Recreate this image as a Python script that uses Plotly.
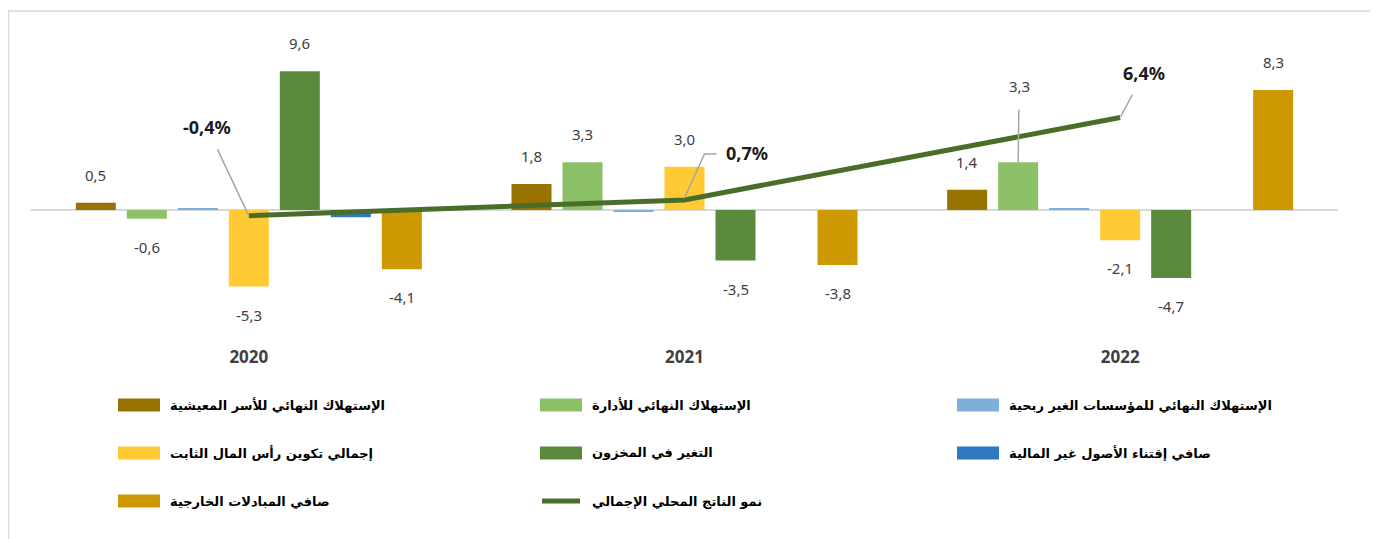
import plotly.graph_objects as go

# ---------------- data ----------------
years = ["2020", "2021", "2022"]
households = [0.5, 1.8, 1.4]
administration = [-0.6, 3.3, 3.3]
npish = [0.1, -0.1, 0.1]
gfcf = [-5.3, 3.0, -2.1]
inventories = [9.6, -3.5, -4.7]
nonfinancial = [-0.5, 0.0, 0.0]
net_exports = [-4.1, -3.8, 8.3]
gdp_growth = [-0.4, 0.7, 6.4]

name_households = "الإستهلاك النهائي للأسر المعيشية"
name_administration = "الإستهلاك النهائي للأدارة"
name_npish = "الإستهلاك النهائي للمؤسسات الغير ربحية"
name_gfcf = "إجمالي تكوين رأس المال الثابت"
name_inventories = "التغير في المخزون"
name_nonfinancial = "صافي إقتناء الأصول غير المالية"
name_net_exports = "صافي المبادلات الخارجية"
name_gdp = "نمو الناتج المحلي الإجمالي"

# ---------------- styling ----------------
OFF = 8  # page body margin offset
W, H = 1378 - OFF, 539 - OFF
PLOT_L, PLOT_R, PLOT_T, PLOT_B = 31, 1338, 20, 345  # in screenshot pixels
ML = PLOT_L - OFF
MT = PLOT_T - OFF
MR = W - (PLOT_R - OFF)
MB = H - (PLOT_B - OFF)
PW, PH = W - ML - MR, H - MT - MB
PX_PER_UNIT = 14.45
ZERO_Y = 210  # screenshot pixels
y_top = (ZERO_Y - PLOT_T) / PX_PER_UNIT
y_bot = -(PLOT_B - ZERO_Y) / PX_PER_UNIT

slot = 51 / (PW / 3)
bar_w = 40 / (PW / 3)

bar_series = [
    (name_households, households, "#997300", True),
    (name_administration, administration, "#8cc168", True),
    (name_npish, npish, "#7eaedc", False),
    (name_gfcf, gfcf, "#ffca33", True),
    (name_inventories, inventories, "#5b8a3c", True),
    (name_nonfinancial, nonfinancial, "#2f78c2", False),
    (name_net_exports, net_exports, "#cc9900", True),
]
line_color = "#4a6e2a"
leader_color = "#a6a6a6"
xpos = list(range(len(years)))

def fmt(v):
    return f"{v:.1f}".replace(".", ",")

def px2paper_x(px):
    return (px - PLOT_L) / PW

def px2paper_y(py):
    return (PLOT_B - py) / PH

fig = go.Figure()
annotations = []
shapes = []

for k, (name, vals, color, labeled) in enumerate(bar_series):
    off = (k - 3) * slot
    fig.add_trace(go.Bar(
        x=xpos, y=vals, name=name, width=bar_w, offset=off - bar_w / 2,
        marker=dict(color=color, line=dict(width=0)),
        showlegend=False,
    ))
    if labeled:
        for i, v in enumerate(vals):
            xa = xpos[i] + off
            if k == 1 and i == 2:
                annotations.append(dict(
                    x=xa, y=v, xref="x", yref="y", text=fmt(v),
                    showarrow=True, arrowhead=0, arrowwidth=1.5, arrowcolor=leader_color,
                    ax=1, ay=-76, startstandoff=12,
                    font=dict(family="Noto Sans", size=15, color="#404040"),
                ))
            else:
                annotations.append(dict(
                    x=xa, y=v, xref="x", yref="y", text=fmt(v), showarrow=False,
                    yshift=28 if v >= 0 else -28, yanchor="middle",
                    font=dict(family="Noto Sans", size=15, color="#404040"),
                ))

fig.add_trace(go.Scatter(
    x=xpos, y=gdp_growth, name=name_gdp, mode="lines",
    line=dict(color=line_color, width=5), showlegend=False,
))

gdp_font = dict(family="Noto Sans", size=18, color="#1a1a1a")
# 2020 and 2022: straight leaders
for i, (ax, ay) in [(0, (-42, -89)), (2, (24, -45))]:
    v = gdp_growth[i]
    annotations.append(dict(
        x=xpos[i], y=v, xref="x", yref="y", text=f"<b>{fmt(v)}%</b>",
        showarrow=True, arrowhead=0, arrowwidth=1.5, arrowcolor=leader_color,
        ax=ax, ay=ay, startstandoff=10, standoff=1, font=gdp_font,
    ))
# 2021: elbow leader
v = gdp_growth[1]
annotations.append(dict(
    x=xpos[1], y=v, xref="x", yref="y", text=f"<b>{fmt(v)}%</b>",
    showarrow=False, xshift=62, yshift=47, font=gdp_font,
))
shapes.append(dict(
    type="path", xref="x", yref="y", xsizemode="pixel", ysizemode="pixel",
    xanchor=xpos[1], yanchor=v, path="M 0 2 L 20 46 L 32 46",
    line=dict(color=leader_color, width=1.5),
))

# ---------------- manual legend ----------------
legend_items = [
    (name_households, "#997300", "bar"),
    (name_administration, "#8cc168", "bar"),
    (name_npish, "#7eaedc", "bar"),
    (name_gfcf, "#ffca33", "bar"),
    (name_inventories, "#5b8a3c", "bar"),
    (name_nonfinancial, "#2f78c2", "bar"),
    (name_net_exports, "#cc9900", "bar"),
    (name_gdp, line_color, "line"),
]
col_x = [118, 540, 957]
row_y = [405, 453, 501]
for idx, (name, color, kind) in enumerate(legend_items):
    r, c = divmod(idx, 3)
    x0 = col_x[c]
    yc = row_y[r]
    if kind == "bar":
        shapes.append(dict(type="rect", xref="paper", yref="paper",
                           x0=px2paper_x(x0), x1=px2paper_x(x0 + 42),
                           y0=px2paper_y(yc + 6.5), y1=px2paper_y(yc - 6.5),
                           fillcolor=color, line=dict(width=0)))
    else:
        shapes.append(dict(type="line", xref="paper", yref="paper",
                           x0=px2paper_x(x0 + 2), x1=px2paper_x(x0 + 40),
                           y0=px2paper_y(yc), y1=px2paper_y(yc),
                           line=dict(color=color, width=5)))
    annotations.append(dict(
        x=px2paper_x(x0 + 50), y=px2paper_y(yc), xref="paper", yref="paper",
        xanchor="left", yanchor="middle", text=f"<b>{name}</b>", showarrow=False,
        font=dict(family="DejaVu Sans", size=13, color="#000000"),
    ))

# outer frame
shapes.append(dict(type="rect", xref="paper", yref="paper", layer="below",
                   x0=px2paper_x(8.5), x1=px2paper_x(1372),
                   y0=px2paper_y(560), y1=px2paper_y(11),
                   line=dict(color="#d9d9d9", width=1.5), fillcolor="rgba(0,0,0,0)"))

fig.update_layout(
    width=W, height=H,
    margin=dict(l=ML, r=MR, t=MT, b=MB),
    barmode="overlay",
    plot_bgcolor="white", paper_bgcolor="white",
    showlegend=False,
    annotations=annotations,
    shapes=shapes,
    xaxis=dict(
        range=[-0.5, 2.5], tickmode="array", tickvals=xpos,
        ticktext=[f"<b>{y}</b>" for y in years],
        tickfont=dict(family="Noto Sans", size=17, color="#404040"),
        showgrid=False, zeroline=False, showline=False, ticks="",
        fixedrange=True,
    ),
    yaxis=dict(
        range=[y_bot, y_top], showticklabels=False, showgrid=False,
        zeroline=True, zerolinecolor="#d9d9d9", zerolinewidth=2,
        showline=False, ticks="", fixedrange=True,
    ),
)

fig.write_html("out.html")
